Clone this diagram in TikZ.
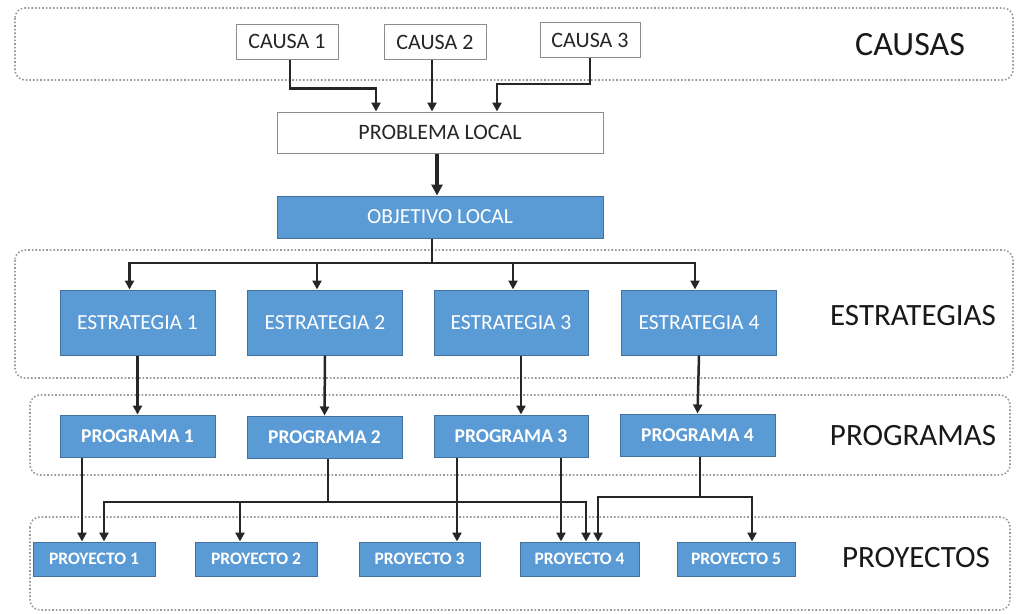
\documentclass[tikz,border=0pt]{standalone}
\usepackage{fontspec}
\setmainfont{Carlito}
\usetikzlibrary{arrows.meta}
\definecolor{myblue}{HTML}{5B9BD5}
\definecolor{mybluedark}{HTML}{41719C}
\tikzset{
  outbox/.style={draw=black!45, fill=white, line width=1pt, inner sep=0pt, font=\fontsize{22}{24}\selectfont, text=black!85},
  bluebox/.style={draw=mybluedark, fill=myblue, line width=1pt, inner sep=0pt, text=white, font=\fontsize{21.5}{24}\selectfont},
  progbox/.style={bluebox, font=\bfseries\fontsize{19.5}{22}\selectfont},
  projbox/.style={bluebox, font=\bfseries\fontsize{17.5}{20}\selectfont},
  group/.style={draw=black!40, dotted, line width=1.6pt, rounded corners=10pt},
  lbl/.style={font=\fontsize{31}{34}\selectfont, text=black!90},
  arr/.style={draw=black!85, line width=2.5pt, -{Triangle[length=9pt,width=9pt]}},
  bigarr/.style={draw=black!85, line width=3.5pt, -{Triangle[length=11pt,width=11pt]}},
  seg/.style={draw=black!85, line width=2.5pt},
}
\begin{document}
\begin{tikzpicture}[x=1pt,y=-1pt]
\useasboundingbox (0,0) rectangle (1027,613);
% groups
\draw[group] (15,8) rectangle (1013,80);
\draw[group] (15,250) rectangle (1013,378);
\draw[group] (30,395) rectangle (1010,475);
\draw[group] (30,517) rectangle (1010,610);
% labels
\node[lbl, font=\fontsize{34}{36}\selectfont] (lcausas) at (910,45) {CAUSAS};
\node[lbl] (lestr) at (913,316) {ESTRATEGIAS};
\node[lbl] (lprog) at (913,436) {PROGRAMAS};
\node[lbl] (lproy) at (916,558) {PROYECTOS};
% causes
\node[outbox, minimum width=102pt, minimum height=35pt] (c1) at (287,41.5) {CAUSA 1};
\node[outbox, minimum width=102pt, minimum height=35pt] (c2) at (435,42) {CAUSA 2};
\node[outbox, minimum width=100pt, minimum height=35pt] (c3) at (590,40) {CAUSA 3};
\node[outbox, minimum width=326pt, minimum height=41pt] (pl) at (440,132.5) {PROBLEMA LOCAL};
\node[bluebox, minimum width=326pt, minimum height=42pt] (ob) at (440,217) {OBJETIVO LOCAL};
% strategies
\node[bluebox, minimum width=155pt, minimum height=65pt] (e1) at (137.5,322.5) {ESTRATEGIA 1};
\node[bluebox, minimum width=155pt, minimum height=65pt] (e2) at (325,322.5) {ESTRATEGIA 2};
\node[bluebox, minimum width=154pt, minimum height=65pt] (e3) at (511,322.5) {ESTRATEGIA 3};
\node[bluebox, minimum width=155pt, minimum height=65pt] (e4) at (699,322.5) {ESTRATEGIA 4};
% programs
\node[progbox, minimum width=155pt, minimum height=42pt] (p1) at (137.5,436) {PROGRAMA 1};
\node[progbox, minimum width=155pt, minimum height=42pt] (p2) at (324.5,437) {PROGRAMA 2};
\node[progbox, minimum width=154pt, minimum height=42pt] (p3) at (511,436) {PROGRAMA 3};
\node[progbox, minimum width=155pt, minimum height=42pt] (p4) at (697.5,435) {PROGRAMA 4};
% projects
\node[projbox, minimum width=122pt, minimum height=34pt] (r1) at (94,559) {PROYECTO 1};
\node[projbox, minimum width=122pt, minimum height=34pt] (r2) at (256,559) {PROYECTO 2};
\node[projbox, minimum width=121pt, minimum height=34pt] (r3) at (419.5,559) {PROYECTO 3};
\node[projbox, minimum width=119pt, minimum height=34pt] (r4) at (579.5,559) {PROYECTO 4};
\node[projbox, minimum width=118pt, minimum height=34pt] (r5) at (736,559) {PROYECTO 5};
% causes -> problem
\draw[arr] ([xshift=3pt]c1.south) -- ++(0,29) -| ([xshift=-64pt]pl.north);
\draw[arr] ([xshift=-3pt]c2.south) -- ([xshift=-8pt]pl.north);
\draw[arr] (c3.south) -- ++(0,26) -| ([xshift=57pt]pl.north);
% problem -> objective
\draw[bigarr] ([xshift=-3pt]pl.south) -- ([xshift=-3pt]ob.north);
% objective -> strategies
\coordinate (jo) at (432,263);
\draw[seg] ([xshift=-8pt]ob.south) -- (jo);
\draw[arr] (jo) -| ([xshift=-8pt]e1.north);
\draw[arr] (jo) -| ([xshift=-8pt]e2.north);
\draw[arr] (jo) -| ([xshift=2pt]e3.north);
\draw[arr] (jo) -| ([xshift=-4pt]e4.north);
% strategies -> programs
\draw[arr] (e1.south) -- (p1.north);
\draw[arr] (e2.south) -- (p2.north);
\draw[arr] ([xshift=10pt]e3.south) -- ([xshift=10pt]p3.north);
\draw[arr] (e4.south) -- (p4.north);
% programs -> projects
\draw[arr] ([xshift=-55.5pt]p1.south) -- ([xshift=-12pt]r1.north);
\coordinate (j2) at (328,502);
\draw[seg] ([xshift=3.5pt]p2.south) -- (j2);
\draw[arr] (j2) -| ([xshift=10pt]r1.north);
\draw[arr] (j2) -| ([xshift=-16pt]r2.north);
\draw[arr] (j2) -| ([xshift=6.5pt]r4.north);
\draw[arr] ([xshift=-54pt]p3.south) -- ([xshift=37.5pt]r3.north);
\draw[arr] ([xshift=50pt]p3.south) -- ([xshift=-18.5pt]r4.north);
\coordinate (j4) at (700,497);
\draw[seg] ([xshift=2.5pt]p4.south) -- (j4);
\draw[arr] (j4) -| ([xshift=18.5pt]r4.north);
\draw[arr] (j4) -| ([xshift=16pt]r5.north);
\end{tikzpicture}
\end{document}
